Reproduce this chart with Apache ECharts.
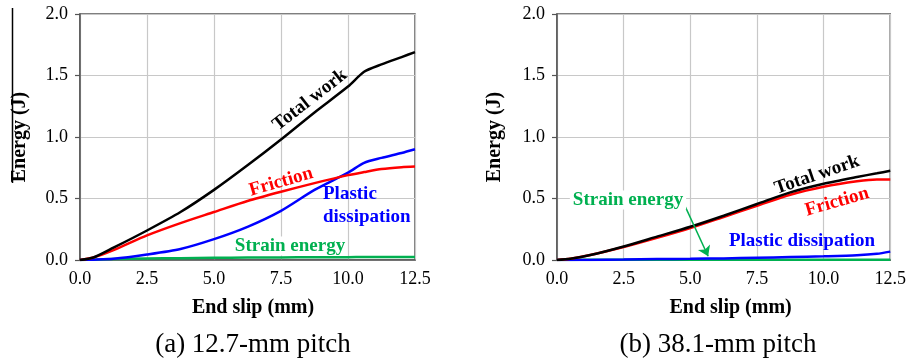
<!DOCTYPE html>
<html>
<head>
<meta charset="utf-8">
<script src="https://cdn.jsdelivr.net/npm/echarts@6/dist/echarts.min.js"></script>
<style>
html,body{margin:0;padding:0;background:#fff;}
#chart{width:909px;height:363px;}
</style>
</head>
<body>
<div id="chart"></div>
<script>
// ---- Data ----
const xTicks = [0, 2.5, 5, 7.5, 10, 12.5];
const yTicks = [0, 0.5, 1.0, 1.5, 2.0];

// (a) 12.7-mm pitch
const slipA     = [0, 0.5, 1.25, 2.5, 3.75, 5, 6.25, 7.5, 8.75, 10, 10.6, 11.25, 12, 12.5];
const totalA    = [0, 0.02, 0.10, 0.24, 0.39, 0.57, 0.77, 0.98, 1.20, 1.41, 1.53, 1.59, 1.65, 1.69];
const frictionA = [0, 0.02, 0.08, 0.20, 0.30, 0.39, 0.48, 0.555, 0.625, 0.69, 0.715, 0.74, 0.755, 0.76];
const plasticA  = [0, 0.003, 0.01, 0.045, 0.09, 0.17, 0.27, 0.40, 0.57, 0.71, 0.79, 0.83, 0.87, 0.90];
const strainA   = [0, 0.003, 0.008, 0.012, 0.015, 0.018, 0.02, 0.021, 0.022, 0.023, 0.024, 0.024, 0.025, 0.025];

// (b) 38.1-mm pitch
const slipB     = [0, 0.5, 1.25, 2.5, 3.75, 5, 6.25, 7.5, 8.75, 10, 11.25, 12, 12.5];
const totalB    = [0, 0.01, 0.04, 0.11, 0.19, 0.27, 0.36, 0.455, 0.55, 0.62, 0.675, 0.705, 0.725];
const frictionB = [0, 0.01, 0.04, 0.105, 0.18, 0.26, 0.35, 0.44, 0.53, 0.595, 0.64, 0.655, 0.655];
const plasticB  = [0, 0, 0.001, 0.004, 0.008, 0.01, 0.013, 0.018, 0.024, 0.03, 0.038, 0.05, 0.068];
const strainB   = [0, 0.001, 0.002, 0.003, 0.003, 0.003, 0.003, 0.003, 0.003, 0.003, 0.003, 0.003, 0.003];

const arrowFrom = [4.82, 0.43];
const arrowTo   = [5.67, 0.03];

const seriesNames = ['Total work', 'Friction', 'Plastic dissipation', 'Strain energy'];
const colors = { total: '#000000', friction: '#ff0000', plastic: '#0000ff', strain: '#00b050' };

// ---- build ----
const pair = (xs, ys) => xs.map((x, i) => [x, ys[i]]);
const FONT = '"Liberation Serif", "Times New Roman", serif';

function mkXAxis(idx, pad) {
  return {
    type: 'value', gridIndex: idx, min: 0, max: 12.5, interval: 2.5,
    name: 'End slip (mm)', nameLocation: 'middle', nameGap: 38,
    nameTextStyle: { fontFamily: FONT, fontWeight: 'bold', fontSize: 20, color: '#000', padding: [0, 0, 0, pad] },
    axisLine: { show: true, lineStyle: { color: '#555', width: 1.5 } },
    axisTick: { show: false },
    axisLabel: { fontFamily: FONT, fontSize: 18, color: '#000', margin: 10, formatter: v => v.toFixed(1) },
    splitLine: { show: true, lineStyle: { color: '#c8c8c8', width: 1.2 } }
  };
}
function mkYAxis(idx, gap) {
  return {
    type: 'value', gridIndex: idx, min: 0, max: 2.0, interval: 0.5,
    name: 'Energy (J)', nameLocation: 'middle', nameGap: gap,
    nameTextStyle: { fontFamily: FONT, fontWeight: 'bold', fontSize: 20, color: '#000' },
    axisLine: { show: true, lineStyle: { color: '#555', width: 1.5 } },
    axisTick: { show: true, inside: false, length: 5, lineStyle: { color: '#555', width: 1.2 } },
    axisLabel: { fontFamily: FONT, fontSize: 18, color: '#000', margin: 12, formatter: v => v.toFixed(1) },
    splitLine: { show: true, lineStyle: { color: '#c8c8c8', width: 1.2 } }
  };
}
function line(name, idx, data, color, extra) {
  return Object.assign({
    name, type: 'line', xAxisIndex: idx, yAxisIndex: idx, data,
    showSymbol: false, symbol: 'none', smooth: 0.25, animation: false,
    lineStyle: { color, width: 2.5 }, itemStyle: { color }, z: 3
  }, extra || {});
}
function label(text, x, y, color, rot) {
  return {
    type: 'text', x, y, rotation: rot || 0, z: 100,
    style: { text, fill: color, font: 'bold 19px ' + FONT, align: 'center', verticalAlign: 'middle' }
  };
}

const chart = echarts.init(document.getElementById('chart'), null, { renderer: 'canvas' });
chart.setOption({
  backgroundColor: '#ffffff',
  animation: false,
  grid: [
    { left: 80, top: 14, width: 335, height: 246, show: true, borderColor: '#555', borderWidth: 1.5, backgroundColor: 'transparent' },
    { left: 557, top: 14, width: 335, height: 246, show: true, borderColor: '#555', borderWidth: 1.5, backgroundColor: 'transparent' }
  ],
  xAxis: [mkXAxis(0, 11), mkXAxis(1, 14)],
  yAxis: [mkYAxis(0, 50), mkYAxis(1, 52)],
  series: [
    line(seriesNames[3], 0, pair(slipA, strainA), colors.strain),
    line(seriesNames[2], 0, pair(slipA, plasticA), colors.plastic),
    line(seriesNames[1], 0, pair(slipA, frictionA), colors.friction),
    line(seriesNames[0], 0, pair(slipA, totalA), colors.total),
    line(seriesNames[3], 1, pair(slipB, strainB), colors.strain, {
      markLine: {
        silent: true, symbol: ['none', 'arrow'], symbolSize: 10,
        label: { show: false },
        lineStyle: { color: colors.strain, width: 1.5, type: 'solid' },
        itemStyle: { color: colors.strain },
        data: [[{ coord: arrowFrom }, { coord: arrowTo }]]
      }
    }),
    line(seriesNames[2], 1, pair(slipB, plasticB), colors.plastic),
    line(seriesNames[1], 1, pair(slipB, frictionB), colors.friction),
    line(seriesNames[0], 1, pair(slipB, totalB), colors.total)
  ],
  graphic: [
    // stray border line at far left of the original image
    { type: 'line', shape: { x1: 12.5, y1: 8, x2: 12.5, y2: 183 }, style: { stroke: '#000', lineWidth: 1.5 } },
    // panel (a) annotations
    label('Total work', 310, 100, colors.total, 0.66),
    label('Friction', 281, 182, colors.friction, 0.28),
    { type: 'text', x: 323, y: 206, z: 100, style: { text: 'Plastic\ndissipation', fill: colors.plastic, font: 'bold 19px ' + FONT, align: 'left', verticalAlign: 'middle', lineHeight: 23 } },
    { type: 'text', x: 290, y: 246, z: 100, style: { text: 'Strain energy', fill: colors.strain, font: 'bold 19px ' + FONT, align: 'center', verticalAlign: 'middle', backgroundColor: '#fff', padding: [0, 2] } },
    // panel (b) annotations
    label('Total work', 817, 175, colors.total, 0.33),
    label('Friction', 837, 202, colors.friction, 0.28),
    { type: 'text', x: 628, y: 200, z: 100, style: { text: 'Strain energy', fill: colors.strain, font: 'bold 19px ' + FONT, align: 'center', verticalAlign: 'middle', backgroundColor: '#fff', padding: [0, 3] } },
    label('Plastic dissipation', 802, 241, colors.plastic, 0),
    // captions
    { type: 'text', x: 253, y: 345, style: { text: '(a) 12.7-mm pitch', fill: '#000', font: '27px ' + FONT, align: 'center', verticalAlign: 'middle' } },
    { type: 'text', x: 718, y: 345, style: { text: '(b) 38.1-mm pitch', fill: '#000', font: '27px ' + FONT, align: 'center', verticalAlign: 'middle' } }
  ]
});
</script>
</body>
</html>
